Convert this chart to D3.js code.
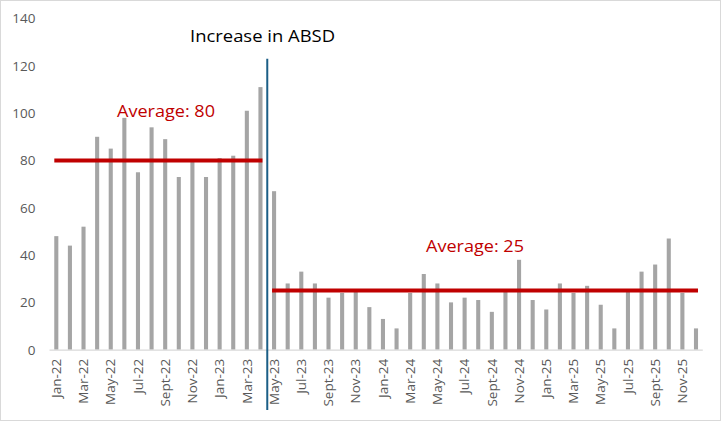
<!DOCTYPE html>
<html><head><meta charset="utf-8">
<script src="https://cdn.jsdelivr.net/npm/d3@7"></script>
<style>html,body{margin:0;padding:0;background:#fff;}svg{display:block;}</style>
</head><body>
<svg id="c" width="722" height="422"></svg>
<script>
const months = ["Jan-22","Feb-22","Mar-22","Apr-22","May-22","Jun-22","Jul-22","Aug-22","Sept-22","Oct-22","Nov-22","Dec-22",
"Jan-23","Feb-23","Mar-23","Apr-23","May-23","Jun-23","Jul-23","Aug-23","Sept-23","Oct-23","Nov-23","Dec-23",
"Jan-24","Feb-24","Mar-24","Apr-24","May-24","Jun-24","Jul-24","Aug-24","Sept-24","Oct-24","Nov-24","Dec-24",
"Jan-25","Feb-25","Mar-25","Apr-25","May-25","Jun-25","Jul-25","Aug-25","Sept-25","Oct-25","Nov-25","Dec-25"];
const values = [48,44,52,90,85,98,75,94,89,73,80,73,
81,82,101,111,67,28,33,28,22,24,25,18,
13,9,24,32,28,20,22,21,16,25,38,21,
17,28,24,27,19,9,25,33,36,47,24,9];
const tickLabels = ["Jan-22","Mar-22","May-22","Jul-22","Sept-22","Nov-22","Jan-23","Mar-23","May-23","Jul-23","Sept-23","Nov-23",
"Jan-24","Mar-24","May-24","Jul-24","Sept-24","Nov-24","Jan-25","Mar-25","May-25","Jul-25","Sept-25","Nov-25"];
const yTicks = [0,20,40,60,80,100,120,140];
const averages = [
  {label:"Average: 80", value:80, from:"Jan-22", to:"Apr-23"},
  {label:"Average: 25", value:25, from:"May-23", to:"Dec-25"}
];
const eventLabel = "Increase in ABSD";
const eventAfter = "Apr-23";
const eventTop = 123;

(function(){
const svg = d3.select("#c");
const FONT = "'Open Sans', 'Liberation Sans', Arial, sans-serif";
svg.append("rect").attr("x",0.5).attr("y",0.5).attr("width",720).attr("height",420)
  .attr("fill","#fff").attr("stroke","#d9d9d9").attr("stroke-width",1);

const pL = 49.5, pR = 702.8, pT = 18.5, pB = 349.7;
const x = d3.scaleBand().domain(months).range([pL, pR]).paddingInner(0.7).paddingOuter(0.35);
const y = d3.scaleLinear().domain([0,140]).range([pB, pT]);
const cx = m => x(m) + x.bandwidth()/2;

// bars
svg.append("g").selectAll("rect").data(months).join("rect")
  .attr("x", d => x(d)).attr("width", x.bandwidth())
  .attr("y", (d,i) => y(values[i])).attr("height", (d,i) => y(0) - y(values[i]))
  .attr("fill", "#a5a5a5");

// y axis
const ya = svg.append("g").attr("transform",`translate(${pL},0)`)
  .call(d3.axisLeft(y).tickValues(yTicks).tickSize(0).tickPadding(14));
ya.select(".domain").remove();
ya.selectAll("text").attr("fill","#595959").style("font-size","13.5px").style("font-family",FONT);

// x axis
const xa = svg.append("g").attr("transform",`translate(0,${pB})`)
  .call(d3.axisBottom(x).tickValues(tickLabels).tickSize(0).tickPadding(9));
xa.select(".domain").attr("stroke","#d9d9d9").attr("stroke-width",1.2)
  .attr("d", `M${pL},0.5H${pR}`);
xa.selectAll("text").attr("fill","#595959").style("font-size","13.5px").style("font-family",FONT)
  .attr("text-anchor","end").attr("dy","0.35em").attr("dx",0)
  .attr("transform","rotate(-90)").attr("x",-9).attr("y",0);

// average lines
averages.forEach(a => {
  svg.append("line").attr("x1", cx(a.from)).attr("x2", cx(a.to))
    .attr("y1", y(a.value)).attr("y2", y(a.value))
    .attr("stroke","#c00000").attr("stroke-width",4).attr("stroke-linecap","square");
});
svg.append("text").attr("x",117).attr("y",117).text(averages[0].label)
  .attr("fill","#c00000").style("font-size","17px").style("font-family",FONT)
  .attr("textLength",98).attr("lengthAdjust","spacingAndGlyphs");
svg.append("text").attr("x",426).attr("y",252.3).text(averages[1].label)
  .attr("fill","#c00000").style("font-size","17px").style("font-family",FONT)
  .attr("textLength",98).attr("lengthAdjust","spacingAndGlyphs");

// event line
const ex = (cx(eventAfter) + cx(months[months.indexOf(eventAfter)+1]))/2;
svg.append("line").attr("x1",ex).attr("x2",ex).attr("y1",y(eventTop)).attr("y2",410)
  .attr("stroke","#1b5e86").attr("stroke-width",2);
svg.append("text").attr("x",190).attr("y",41.7).text(eventLabel)
  .attr("fill","#000").style("font-size","16.5px").style("font-family",FONT)
  .attr("textLength",145).attr("lengthAdjust","spacingAndGlyphs");
})();
</script>
</body></html>
